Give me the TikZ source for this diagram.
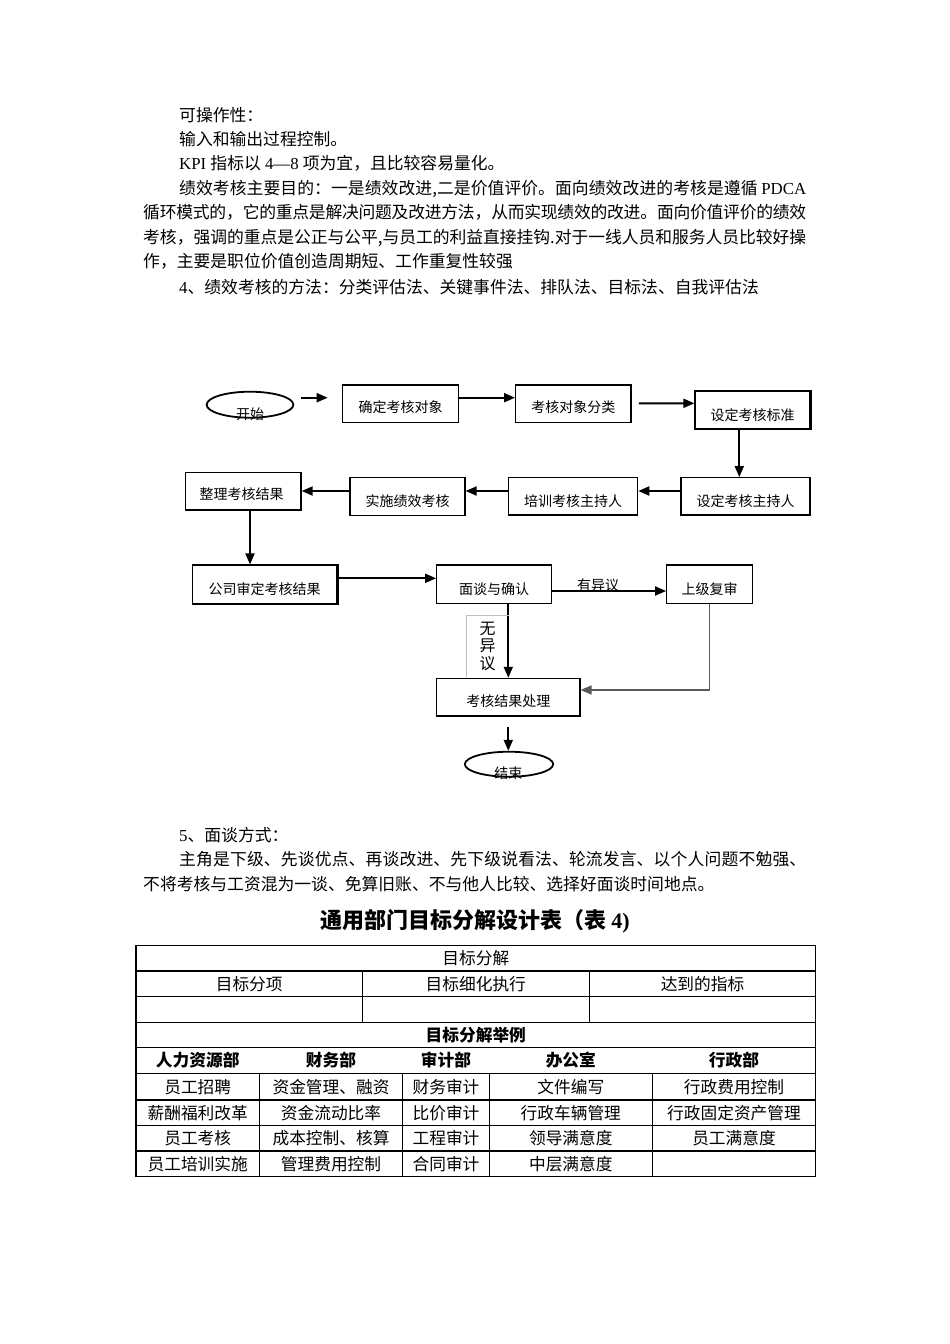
\documentclass[tikz,border=0pt]{standalone}
\usepackage{fontspec}
\setmainfont{Noto Sans CJK SC}
\newfontfamily\lat{Liberation Serif}
\usetikzlibrary{arrows.meta,shapes.geometric}
\XeTeXlinebreaklocale "zh"
\XeTeXlinebreakskip=0pt plus 1pt
\newcommand\jline[2]{\parbox[t]{#1}{\XeTeXlinebreakskip=0pt plus 8pt minus 0.6pt\parfillskip=0pt\relax #2}}
\begin{document}
\begin{tikzpicture}[x=1pt,y=-1pt,
  body/.style={font=\fontsize{16.8}{20}\selectfont, inner sep=0pt, anchor=base west},
  box/.style={draw, line width=1.2pt, inner sep=0pt},
  oval/.style={draw, ellipse, line width=1.8pt, inner sep=0pt},
  ftxt/.style={font=\fontsize{14}{16}\selectfont, inner sep=0pt, anchor=base},
  arr/.style={line width=1.9pt, -{Triangle[length=11pt,width=9pt]}},
  shadowline/.style={line width=2.6pt},
  tline/.style={line width=1.2pt},
  ttxt/.style={font=\fontsize{16.7}{20}\selectfont, inner sep=0pt, anchor=base},
  tbold/.style={font=\fontsize{16.7}{20}\selectfont\bfseries, inner sep=0pt, anchor=base}]
\useasboundingbox (0,0) rectangle (950,1344);
\fill[white] (0,0) rectangle (950,1344);

% ---------- top text ----------
\node[body] (t1) at (179,121) {可操作性：};
\node[body] (t2) at (179,145) {输入和输出过程控制。};
\node[body] (t3) at (179,169) {{\lat KPI }指标以{\lat\ 4—8 }项为宜，且比较容易量化。};
\node[body] (t4) at (179,194) {\jline{627pt}{绩效考核主要目的：一是绩效改进,二是价值评价。面向绩效改进的考核是遵循 {\lat PDCA}}};
\node[body] (t5) at (143,218.5) {\jline{663pt}{循环模式的，它的重点是解决问题及改进方法，从而实现绩效的改进。面向价值评价的绩效}};
\node[body] (t6) at (143,243) {\jline{663pt}{考核，强调的重点是公正与公平,与员工的利益直接挂钩.对于一线人员和服务人员比较好操}};
\node[body] (t7) at (143,267.5) {作，主要是职位价值创造周期短、工作重复性较强};
\node[body] (t8) at (179,293.5) {{\lat 4}、绩效考核的方法：分类评估法、关键事件法、排队法、目标法、自我评估法};

% ---------- flowchart ----------
\node[oval, minimum width=86.7pt, minimum height=26pt] (st) at (250,404.7) {};
\node[ftxt] (stt) at (250,419.2) {开始};

\node[box, minimum width=115.6pt, minimum height=37.7pt] (b1) at (400.5,403.9) {};
\node[ftxt] (b1t) at (400.5,412.5) {确定考核对象};
\node[box, minimum width=115.3pt, minimum height=37.7pt] (b2) at (573.3,403.9) {};
\node[ftxt] (b2t) at (573.3,412.3) {考核对象分类};
\node[box, minimum width=115pt, minimum height=37.3pt] (b3) at (752.5,409.7) {};
\node[ftxt] (b3t) at (752.5,420.9) {设定考核标准};
\node[box, minimum width=129pt, minimum height=37.3pt] (b4) at (745.5,496.3) {};
\node[ftxt] (b4t) at (745.5,506.2) {设定考核主持人};
\node[box, minimum width=129.4pt, minimum height=37.3pt] (b5) at (573,496.3) {};
\node[ftxt] (b5t) at (573,506.2) {培训考核主持人};
\node[box, minimum width=115pt, minimum height=38pt] (b6) at (407.5,496.7) {};
\node[ftxt] (b6t) at (407.5,506.2) {实施绩效考核};
\node[box, minimum width=115.5pt, minimum height=37.3pt] (b7) at (243.3,491.3) {};
\node[ftxt] (b7t) at (241.5,499.5) {整理考核结果};
\node[box, minimum width=144pt, minimum height=38.3pt] (b8) at (264.7,584.2) {};
\node[ftxt] (b8t) at (264.7,594.5) {公司审定考核结果};
\node[box, minimum width=115pt, minimum height=38.3pt] (b9) at (494.2,584.2) {};
\node[ftxt] (b9t) at (494.2,594.5) {面谈与确认};
\node[box, minimum width=86pt, minimum height=38.3pt] (b10) at (709.7,584.2) {};
\node[ftxt] (b10t) at (709.7,594.5) {上级复审};
\node[box, minimum width=143.3pt, minimum height=37.7pt] (b11) at (508.3,697.2) {};
\node[ftxt] (b11t) at (508.3,706.9) {考核结果处理};
\node[oval, minimum width=88.3pt, minimum height=25pt] (en) at (509,764.2) {};
\node[ftxt] (ent) at (508.3,778.2) {结束};

% shadow edges
\draw[shadowline] (b3.north east) -- (b3.south east) -- (b3.south west);
\draw[shadowline] (b8.north east) -- (b8.south east) -- (b8.south west);

% connectors
\draw[arr, shorten <=6.7pt, shorten >=14.4pt] ([yshift=7pt]st.east) -- ([yshift=6.2pt]b1.west);
\draw[arr] ([yshift=6.2pt]b1.east) -- ([yshift=6.2pt]b2.west);
\draw[arr, shorten <=7.3pt] ([yshift=0.6pt]b2.east) -- ([yshift=6.4pt]b3.west);
\draw[arr] ([xshift=-13.2pt]b3.south) -- ([xshift=-6.2pt]b4.north);
\draw[arr] ([yshift=5.3pt]b4.west) -- ([yshift=5.3pt]b5.east);
\draw[arr] ([yshift=5.3pt]b5.west) -- ([yshift=5.7pt]b6.east);
\draw[arr] ([yshift=5.7pt]b6.west) -- ([yshift=0.3pt]b7.east);
\draw[arr] ([xshift=6.7pt]b7.south) -- ([xshift=-14.7pt]b8.north);
\draw[arr] ([yshift=5.9pt]b8.east) -- ([yshift=5.9pt]b9.west);
\draw[arr] ([yshift=-6.8pt]b9.east) -- ([yshift=-6.8pt]b10.west);
\draw[arr] ([xshift=14.1pt]b9.south) -- (b11.north);
\draw[arr, draw=black!65, line width=1.5pt] (b10.south) |- ([yshift=7.2pt]b11.east);
\draw[arr, shorten <=10.7pt] (b11.south) -- ([xshift=-0.7pt]en.north);

% labels
\node[ftxt] (yl) at (598,590) {有异议};
\node[inner sep=0pt, minimum width=41.6pt, minimum height=60.7pt, align=center,
      font=\fontsize{16}{17.5}\selectfont] (nl) at (487.5,646.3) {无\\异\\议};
\draw[black!25, line width=0.8pt] (nl.south west) -- (nl.north west) -- (nl.north east);

% ---------- lower text ----------
\node[body] (t9) at (179,841) {{\lat 5}、面谈方式：};
\node[body] (t10) at (179,865) {\jline{627pt}{主角是下级、先谈优点、再谈改进、先下级说看法、轮流发言、以个人问题不勉强、}};
\node[body] (t11) at (143,890) {不将考核与工资混为一谈、免算旧账、不与他人比较、选择好面谈时间地点。};

\node[font=\fontsize{22}{24}\selectfont\bfseries, inner sep=0pt, anchor=base] (title) at (475,928) {通用部门目标分解设计表（表 {\lat\bfseries 4)}};

% ---------- table ----------
\draw[tline] (136,945.7) rectangle (815.7,1176.7);
\foreach \yy in {971,996.7,1022.3,1047.7,1073.3,1100,1125.7,1151}
  \draw[tline] (136,\yy) -- (815.7,\yy);
\foreach \xx in {362.3,589.3}
  \draw[tline] (\xx,971) -- (\xx,1022.3);
\foreach \xx in {259.3,402.7,489.3,652.3}
  \draw[tline] (\xx,1073.3) -- (\xx,1176.7);

\node[ttxt] (r1) at (475.8,964.6) {目标分解};
\node[ttxt] (r2a) at (249.2,990.1) {目标分项};
\node[ttxt] (r2b) at (475.8,990.1) {目标细化执行};
\node[ttxt] (r2c) at (702.5,990.1) {达到的指标};
\node[tbold] (r4) at (475.8,1041.3) {目标分解举例};
\foreach \x/\t [count=\i] in {197.7/人力资源部,331/财务部,446/审计部,570.8/办公室,734/行政部}
  \node[tbold] (h\i) at (\x,1066.8) {\t};
\foreach \x/\t [count=\i] in {197.7/员工招聘,331/资金管理、融资,446/财务审计,570.8/文件编写,734/行政费用控制}
  \node[ttxt] (a\i) at (\x,1093) {\t};
\foreach \x/\t [count=\i] in {197.7/薪酬福利改革,331/资金流动比率,446/比价审计,570.8/行政车辆管理,734/行政固定资产管理}
  \node[ttxt] (b\i) at (\x,1119.1) {\t};
\foreach \x/\t [count=\i] in {197.7/员工考核,331/成本控制、核算,446/工程审计,570.8/领导满意度,734/员工满意度}
  \node[ttxt] (c\i) at (\x,1144.6) {\t};
\foreach \x/\t [count=\i] in {197.7/员工培训实施,331/管理费用控制,446/合同审计,570.8/中层满意度}
  \node[ttxt] (d\i) at (\x,1170.1) {\t};
\end{tikzpicture}
\end{document}
